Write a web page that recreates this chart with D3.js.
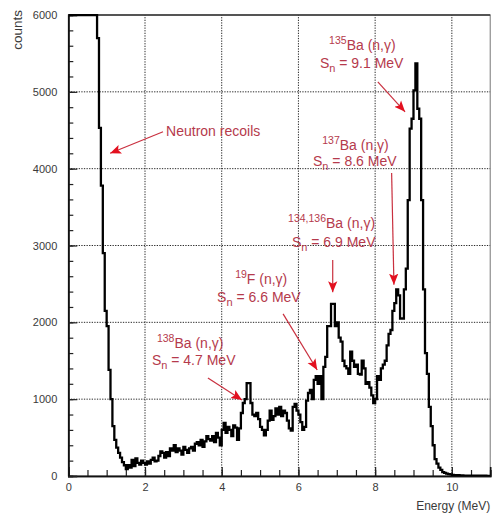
<!DOCTYPE html>
<html>
<head>
<meta charset="utf-8">
<script src="https://cdn.jsdelivr.net/npm/d3@7/dist/d3.min.js"></script>
<style>
  html, body { margin: 0; padding: 0; background: #fff; }
  svg { display: block; font-family: "Liberation Sans", Arial, sans-serif; }
</style>
</head>
<body>
<svg id="chart" width="493" height="515"></svg>
<script>
// Gamma spectrum: counts per 0.05 MeV bin, starting at 0 MeV
const binWidth = 0.05;
const counts = [
  // 0.00 - 0.95
  6000, 6000, 6000, 6000, 6000, 6000, 6000, 6000, 6000, 6000,
  6000, 6000, 6000, 6000, 6000, 5700, 4530, 3780, 2900, 2150,
  // 1.00 - 1.95
  1950, 1380, 1000, 650, 470, 370, 300, 240, 180, 140,
  90, 140, 110, 210, 130, 230, 170, 150, 200, 170,
  // 2.00 - 2.95
  150, 190, 160, 210, 240, 190, 200, 260, 320, 300,
  240, 310, 260, 360, 330, 400, 310, 360, 330, 280,
  // 3.00 - 3.95
  380, 340, 300, 360, 380, 330, 420, 440, 400, 470,
  380, 450, 520, 480, 460, 520, 440, 560, 500, 400,
  // 4.00 - 4.95
  600, 690, 560, 640, 600, 520, 660, 630, 470, 620,
  820, 950, 1000, 1210, 1210, 950, 800, 780, 820, 740,
  // 5.00 - 5.95
  640, 600, 530, 600, 720, 850, 730, 780, 880, 800,
  900, 780, 850, 820, 720, 620, 590, 900, 940, 850,
  // 6.00 - 6.95
  800, 700, 600, 640, 980, 1080, 1120, 1000, 1250, 1300,
  1200, 1300, 1000, 1420, 1550, 1950, 1950, 2240, 2240, 1950,
  // 7.00 - 7.95
  2000, 1800, 1750, 1500, 1430, 1400, 1330, 1620, 1500, 1420,
  1450, 1330, 1320, 1500, 1400, 1200, 1220, 1150, 1050, 950,
  // 8.00 - 8.95
  1000, 1300, 1250, 1400, 1450, 1500, 1700, 1850, 1900, 2150,
  2250, 2430, 2350, 2050, 2050, 2430, 2700, 3590, 4520, 4650,
  // 9.00 - 9.95
  5020, 5370, 4780, 4650, 3590, 2430, 1600, 1330, 900, 650,
  400, 220, 160, 110, 80, 50, 40, 30, 25, 20,
  // 10.00 - 10.95
  15, 12, 10, 10, 8, 8, 6, 6, 5, 5,
  5, 4, 4, 4, 3, 3, 3, 3, 2, 2
];

const xMajorTicks = [0, 2, 4, 6, 8, 10];
const yMajorTicks = [0, 1000, 2000, 3000, 4000, 5000, 6000];
const xMinorTicks = d3.range(0, 11.001, 0.5);
const yMinorTicks = d3.range(0, 6001, 200);

// Peak annotations: label lines and arrow (tail -> head), in data units
const annotations = [
  { sup: "", main: "Neutron recoils", sub: null, tx: 2.55, ty: 4430, tail: [2.47, 4480], head: [1.09, 4200] },
  { sup: "135", main: "Ba (n,\u03b3)", sub: "9.1 MeV", tx: 6.80, ty: 5550, sx: 6.56, sy: 5310, tail: [8.07, 5130], head: [8.78, 4740] },
  { sup: "137", main: "Ba (n,\u03b3)", sub: "8.6 MeV", tx: 6.62, ty: 4245, sx: 6.38, sy: 4035, tail: [8.43, 3945], head: [8.49, 2490] },
  { sup: "134,136", main: "Ba (n,\u03b3)", sub: "6.9 MeV", tx: 5.73, ty: 3230, sx: 5.83, sy: 2980, tail: [6.894, 2810], head: [6.894, 2390] },
  { sup: "19", main: "F (n,\u03b3)", sub: "6.6 MeV", tx: 4.35, ty: 2500, sx: 3.88, sy: 2265, tail: [5.60, 2110], head: [6.49, 1380] },
  { sup: "138", main: "Ba (n,\u03b3)", sub: "4.7 MeV", tx: 2.31, ty: 1665, sx: 2.18, sy: 1445, tail: [3.64, 1275], head: [4.53, 990] }
];

const svg = d3.select("#chart");
const margin = { left: 68.3, top: 15, right: 2.8, bottom: 39 };
const W = 493, H = 515;
const x = d3.scaleLinear().domain([0, 11]).range([margin.left, W - margin.right]);
const y = d3.scaleLinear().domain([0, 6000]).range([H - margin.bottom, margin.top]);

const textColor = "#b53a4c";
const arrowColor = "#c9303f";
const headColor = "#e3101f";

svg.append("defs").append("clipPath").attr("id", "plotClip")
  .append("rect")
  .attr("x", x(0)).attr("y", y(6000) - 1)
  .attr("width", x(11) - x(0)).attr("height", y(0) - y(6000) + 1);

svg.append("defs").append("marker")
  .attr("id", "head")
  .attr("viewBox", "0 0 10 10")
  .attr("refX", 10).attr("refY", 5)
  .attr("markerWidth", 11).attr("markerHeight", 11)
  .attr("markerUnits", "userSpaceOnUse")
  .attr("orient", "auto")
  .append("path").attr("d", "M0,0.8 L10,5 L0,9.2 L2.2,5 Z").attr("fill", headColor);

// Dotted grid at major ticks
const grid = svg.append("g").attr("stroke", "#2a2a2a").attr("stroke-width", 1).attr("stroke-dasharray", "1.3,1.3");
grid.selectAll(".gx").data(xMajorTicks.filter(d => d > 0))
  .join("line")
  .attr("x1", d => x(d)).attr("x2", d => x(d))
  .attr("y1", y(0)).attr("y2", y(6000));
grid.selectAll(".gy").data(yMajorTicks.filter(d => d > 0 && d < 6000))
  .join("line")
  .attr("x1", x(0)).attr("x2", x(11))
  .attr("y1", d => y(d)).attr("y2", d => y(d));

// Plot frame
svg.append("rect")
  .attr("x", x(0)).attr("y", y(6000))
  .attr("width", x(11) - x(0)).attr("height", y(0) - y(6000))
  .attr("fill", "none").attr("stroke", "#777").attr("stroke-width", 1);

// Axes with inward ticks
const xAxisMinor = d3.axisBottom(x).tickValues(xMinorTicks).tickSize(-6).tickFormat("");
const xAxisMajor = d3.axisBottom(x).tickValues(xMajorTicks).tickSize(-9).tickPadding(7).tickFormat(d3.format("d"));
const yAxisMinor = d3.axisLeft(y).tickValues(yMinorTicks).tickSize(-5).tickFormat("");
const yAxisMajor = d3.axisLeft(y).tickValues(yMajorTicks).tickSize(-9).tickPadding(11).tickFormat(d3.format("d"));

function styleAxis(g) {
  g.select(".domain").attr("stroke", "#111").attr("stroke-width", 1.6);
  g.selectAll(".tick line").attr("stroke", "#222").attr("stroke-width", 1.2);
  g.selectAll(".tick text").attr("fill", "#3a3a3a").attr("font-size", 11)
    .attr("font-family", "'Liberation Sans', Arial, sans-serif");
}
svg.append("g").attr("transform", `translate(0,${y(0)})`).call(xAxisMinor).call(styleAxis);
svg.append("g").attr("transform", `translate(0,${y(0)})`).call(xAxisMajor).call(styleAxis);
svg.append("g").attr("transform", `translate(${x(0)},0)`).call(yAxisMinor).call(styleAxis);
svg.append("g").attr("transform", `translate(${x(0)},0)`).call(yAxisMajor).call(styleAxis);

// Top edge drawn dark
svg.append("line")
  .attr("x1", x(0)).attr("x2", x(11)).attr("y1", y(6000)).attr("y2", y(6000))
  .attr("stroke", "#333").attr("stroke-width", 1.6);

// Axis titles
svg.append("text")
  .attr("x", x(11)).attr("y", 510)
  .attr("text-anchor", "end").attr("font-size", 12).attr("fill", "#3a3a3a")
  .text("Energy (MeV)");
svg.append("text")
  .attr("transform", "translate(22,10) rotate(-90)")
  .attr("text-anchor", "end").attr("font-size", 13.5).attr("fill", "#3a3a3a")
  .text("counts");

// Step histogram
const pts = counts.map((c, i) => [i * binWidth, c]);
pts.push([counts.length * binWidth, counts[counts.length - 1]]);
const line = d3.line().x(d => x(d[0])).y(d => y(d[1])).curve(d3.curveStepAfter);
svg.append("path")
  .datum(pts)
  .attr("clip-path", "url(#plotClip)")
  .attr("d", line)
  .attr("fill", "none").attr("stroke", "#000").attr("stroke-width", 2.3)
  .attr("stroke-linejoin", "miter");

// Annotations
const ann = svg.append("g").attr("font-family", "'Liberation Sans', Arial, sans-serif");
annotations.forEach(a => {
  ann.append("line")
    .attr("x1", x(a.tail[0])).attr("y1", y(a.tail[1]))
    .attr("x2", x(a.head[0])).attr("y2", y(a.head[1]))
    .attr("stroke", arrowColor).attr("stroke-width", 1.2)
    .attr("marker-end", "url(#head)");

  const t = ann.append("text")
    .attr("x", x(a.tx)).attr("y", y(a.ty))
    .attr("fill", textColor).attr("font-size", 14);
  if (a.sup) {
    t.append("tspan").attr("font-size", 10.5).attr("dy", -6).text(a.sup);
    t.append("tspan").attr("dy", 6).text(a.main);
  } else {
    t.text(a.main);
  }

  if (a.sub) {
    const s = ann.append("text")
      .attr("x", x(a.sx)).attr("y", y(a.sy))
      .attr("fill", textColor).attr("font-size", 14);
    s.append("tspan").text("S");
    s.append("tspan").attr("font-size", 11).attr("dy", 4).text("n");
    s.append("tspan").attr("dy", -4).text(" = " + a.sub);
  }
});
</script>
</body>
</html>
